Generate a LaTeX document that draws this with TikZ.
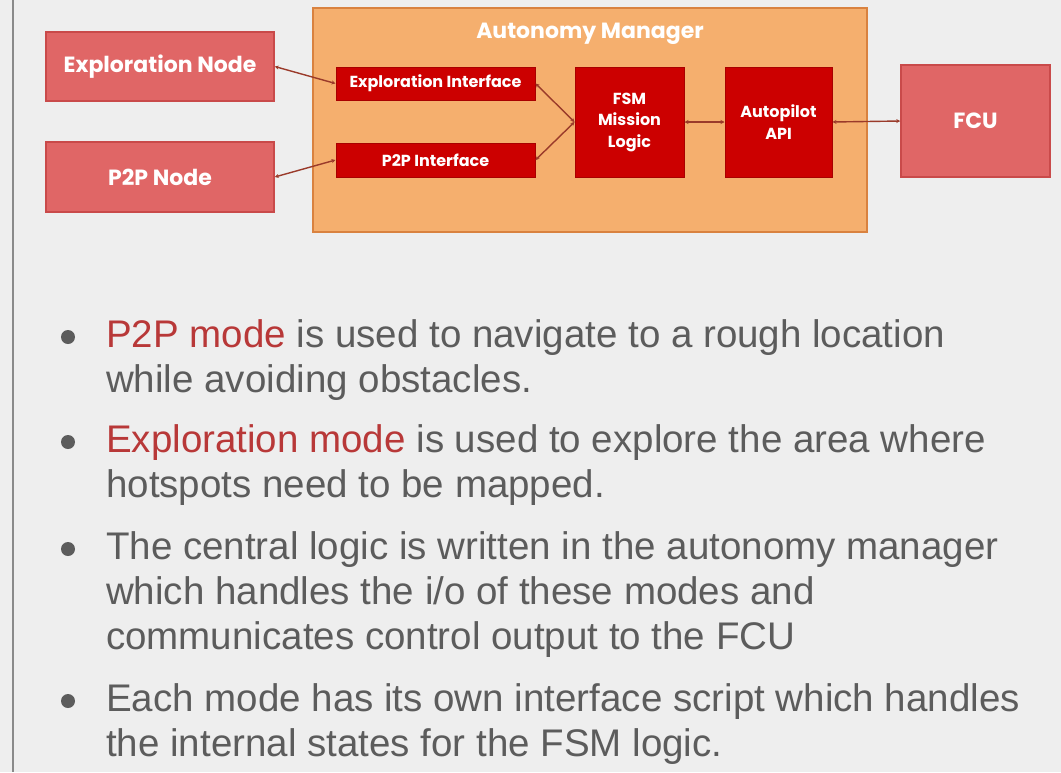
\documentclass[tikz,border=0pt]{standalone}
\usepackage{fontspec}
\setmainfont{Liberation Sans}
\newfontfamily\dfont{Poppins}
\usetikzlibrary{arrows.meta}
\definecolor{bg}{HTML}{EEEEEE}
\definecolor{frame}{HTML}{8A8A8A}
\definecolor{nodefill}{HTML}{E06666}
\definecolor{nodedraw}{HTML}{C94A4A}
\definecolor{amfill}{HTML}{F5AF6E}
\definecolor{amdraw}{HTML}{D9823F}
\definecolor{inner}{HTML}{CC0000}
\definecolor{innerdraw}{HTML}{A80000}
\definecolor{conn}{HTML}{9A3A2A}
\definecolor{txt}{HTML}{5C5C5C}
\definecolor{hl}{HTML}{B83838}
\tikzset{
  outerbox/.style={draw=nodedraw, line width=1.5pt, fill=nodefill, text=white, inner sep=0pt, font=\dfont\bfseries\fontsize{22}{26}\selectfont, align=center},
  ambox/.style={draw=amdraw, line width=1.5pt, fill=amfill, inner sep=0pt},
  innerbox/.style={draw=innerdraw, line width=1pt, fill=inner, text=white, inner sep=0pt, font=\dfont\bfseries\fontsize{16}{21.5}\selectfont, align=center},
  conn/.style={draw=conn, line width=1.4pt, {Stealth[length=4pt,width=4pt]}-{Stealth[length=4pt,width=4pt]}},
  bline/.style={anchor=base west, inner sep=0pt, text=txt, font=\fontsize{38.5}{45}\selectfont},
  bdot/.style={fill=txt, draw=none}
}
\begin{document}
\begin{tikzpicture}[x=1pt,y=-1pt]
\useasboundingbox (0,0) rectangle (1061,772);
\fill[bg] (0,0) rectangle (1061,772);
\draw[frame, line width=2pt] (13,0) -- (13,772);

% diagram
\node[ambox, minimum width=554pt, minimum height=224pt] (am) at (590,120) {};
\node[anchor=center, text=white, font=\dfont\bfseries\fontsize{22}{26}\selectfont] (amtitle) at (590,34) {Autonomy Manager};

\node[outerbox, minimum width=228pt, minimum height=69pt] (expl) at (160,66.5) {Exploration Node};
\node[outerbox, minimum width=228pt, minimum height=70pt] (p2p) at (160,177) {P2P Node};
\node[outerbox, minimum width=149pt, minimum height=112pt] (fcu) at (975.5,121) {FCU};

\node[innerbox, minimum width=199pt, minimum height=33pt] (ei) at (435.5,83.5) {Exploration Interface};
\node[innerbox, minimum width=199pt, minimum height=34pt] (pi) at (435.5,160) {P2P Interface};
\node[innerbox, minimum width=109pt, minimum height=110pt] (fsm) at (629.5,122) {FSM\\Mission\\Logic};
\node[innerbox, minimum width=107pt, minimum height=110pt] (ap) at (778.5,122) {Autopilot\\API};

\draw[conn] (expl.east) -- (ei.west);
\draw[conn] (p2p.east) -- (pi.west);
\draw[conn] (ei.east) -- (fsm.west);
\draw[conn] (pi.east) -- (fsm.west);
\draw[conn] (fsm.east) -- (ap.west);
\draw[conn] (ap.east) -- (fcu.west);

% bullets
\fill[bdot] (68,337) circle (7pt);
\node[bline] (b1a) at (106,347) {\textcolor{hl}{P2P mode} is used to navigate to a rough location};
\node[bline] (b1b) at (106,392) {while avoiding obstacles.};
\fill[bdot] (68,442) circle (7pt);
\node[bline] (b2a) at (106,452) {\textcolor{hl}{Exploration mode} is used to explore the area where};
\node[bline] (b2b) at (106,497) {hotspots need to be mapped.};
\fill[bdot] (68,549) circle (7pt);
\node[bline] (b3a) at (106,559) {The central logic is written in the autonomy manager};
\node[bline] (b3b) at (106,604) {which handles the i/o of these modes and};
\node[bline] (b3c) at (106,649) {communicates control output to the FCU};
\fill[bdot] (68,701) circle (7pt);
\node[bline] (b4a) at (106,711) {Each mode has its own interface script which handles};
\node[bline] (b4b) at (106,756) {the internal states for the FSM logic.};
\end{tikzpicture}
\end{document}
